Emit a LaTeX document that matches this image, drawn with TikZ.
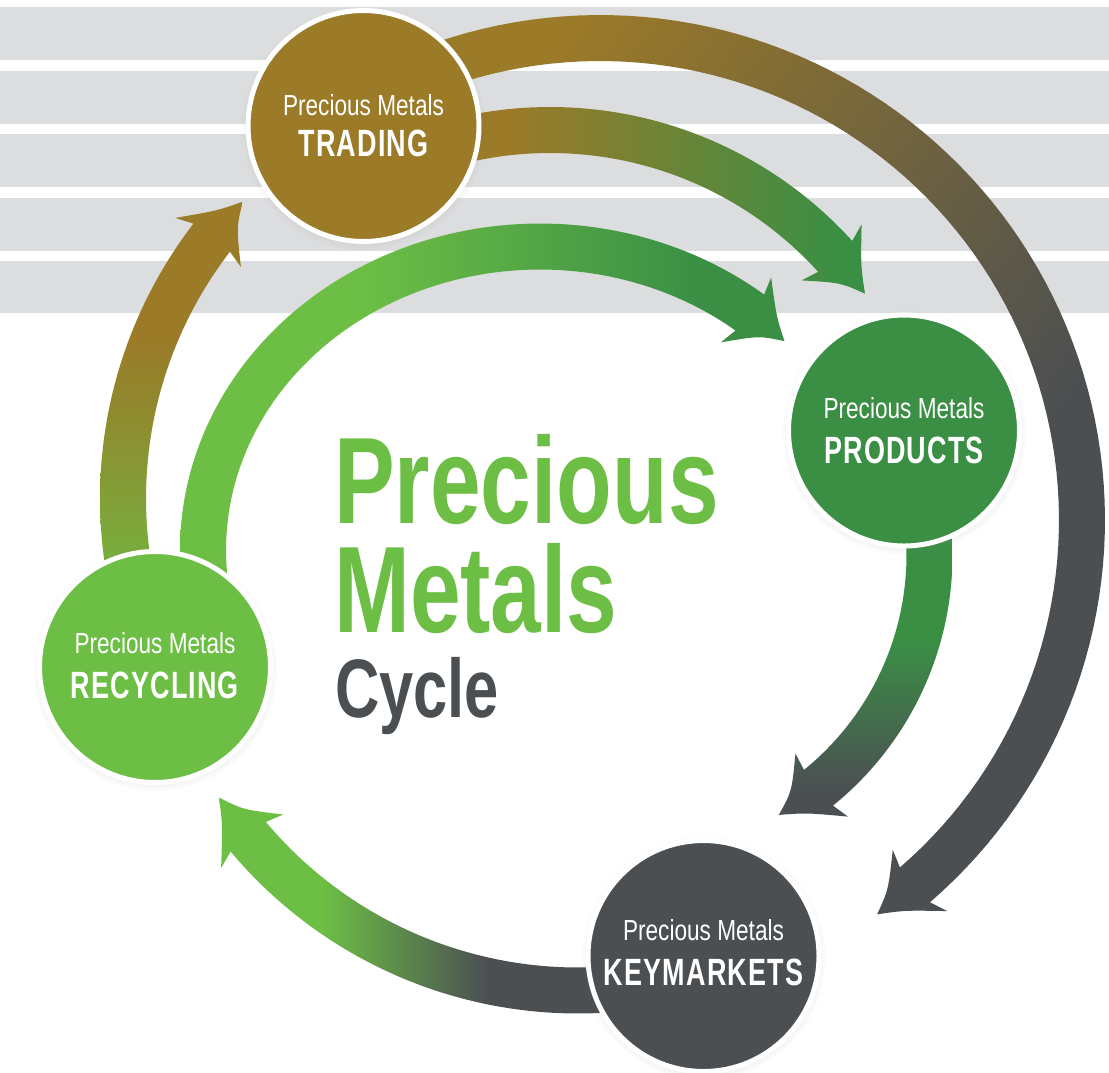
\documentclass[tikz,border=0pt]{standalone}
\usepackage{fontspec}
\setmainfont{Liberation Sans}
\newfontfamily\lblreg[FakeStretch=0.78]{Liberation Sans}
\newfontfamily\lblbold[FakeStretch=0.71,LetterSpace=3]{Liberation Sans}
\newfontfamily\ttlfont[FakeStretch=0.74]{Liberation Sans}
\usetikzlibrary{shadows}
\definecolor{cgold}{HTML}{9B7A28}
\definecolor{cdgreen}{HTML}{3A8F45}
\definecolor{clgreen}{HTML}{6DBE45}
\definecolor{cgray}{HTML}{4B4F52}
\definecolor{cband}{HTML}{DCDDDF}
% gradients: positions p = 50 + d/24 (d = distance from (555,536) along axis)
\pgfdeclarehorizontalshading{shA}{100bp}{color(0bp)=(cgold); color(37.7bp)=(cgold); color(63.8bp)=(cgray); color(100bp)=(cgray)}
\pgfdeclarehorizontalshading{shB}{100bp}{color(0bp)=(cgold); color(48.1bp)=(cgold); color(61.9bp)=(cdgreen); color(100bp)=(cdgreen)}
\pgfdeclarehorizontalshading{shC}{100bp}{color(0bp)=(clgreen); color(41.9bp)=(clgreen); color(56.0bp)=(cdgreen); color(100bp)=(cdgreen)}
\pgfdeclarehorizontalshading{shD}{100bp}{color(0bp)=(cdgreen); color(54.3bp)=(cdgreen); color(60.6bp)=(cgray); color(100bp)=(cgray)}
\pgfdeclarehorizontalshading{shE}{100bp}{color(0bp)=(clgreen); color(40.3bp)=(clgreen); color(47.2bp)=(cgray); color(100bp)=(cgray)}
\pgfdeclarehorizontalshading{shF}{100bp}{color(0bp)=(cgold); color(41.8bp)=(cgold); color(54.0bp)=(clgreen); color(100bp)=(clgreen)}
\def\hw{23}
\def\ww{41}
% arrow outline: #1,#2 centre; #3,#4 radii; #5 start angle; #6 shaft end; #7 tip
\newcommand\arrowshp[7]{%
 plot[domain=#5:#6,samples=90] ({#1+(#3+\hw)*cos(\x)},{#2+(#4+\hw)*sin(\x)})
 -- ({#1+(#3+\ww)*cos(#6-0.8)},{#2+(#4+\ww)*sin(#6-0.8)})
 .. controls ({#1+(#3+13)*cos((#6+#7)/2)},{#2+(#4+13)*sin((#6+#7)/2)}) .. ({#1+#3*cos(#7)},{#2+#4*sin(#7)})
 .. controls ({#1+(#3-13)*cos((#6+#7)/2)},{#2+(#4-13)*sin((#6+#7)/2)}) .. ({#1+(#3-\ww)*cos(#6-0.8)},{#2+(#4-\ww)*sin(#6-0.8)})
 -- ({#1+(#3-\hw)*cos(#6)},{#2+(#4-\hw)*sin(#6)})
 -- plot[domain=#6:#5,samples=90] ({#1+(#3-\hw)*cos(\x)},{#2+(#4-\hw)*sin(\x)})
 -- cycle}
\begin{document}
\begin{tikzpicture}[x=1pt,y=-1pt,
  band/.style={fill=cband},
  disc/.style={circle, draw=white, line width=5pt, minimum size=231pt, inner sep=0pt,
    circular drop shadow={shadow scale=1.06, shadow xshift=0pt, shadow yshift=-2pt, opacity=0.22}},
  toplbl/.style={anchor=base, inner sep=0pt, text=white, font=\lblreg\fontsize{29}{29}\selectfont},
  botlbl/.style={anchor=base, inner sep=0pt, text=white, font=\lblbold\bfseries\fontsize{38}{38}\selectfont},
  ttl/.style={anchor=base west, inner sep=0pt, font=\ttlfont\bfseries\fontsize{123}{109}\selectfont}]
\useasboundingbox[fill=white] (0,0) rectangle (1109,1072);
% background bands
\foreach \ya/\yb in {7/60,71/124,134/187,198/251,261/313}
  \fill[band] (0,\ya) rectangle (1109,\yb);
% arrows
\begin{scope}
 \clip \arrowshp{600}{520}{482}{482}{-114.5}{49.2}{54.9};
 \shade[shading=shA, shading angle=-37.2] (-45,-64) rectangle (1155,1136);
\end{scope}
\begin{scope}
 \clip \arrowshp{550}{515}{385}{385}{-105}{-42.2}{-35.1};
 \shade[shading=shB, shading angle=0] (-45,-64) rectangle (1155,1136);
\end{scope}
\begin{scope}
 \clip \arrowshp{540}{550}{337}{303.5}{165}{308.5}{316.5};
 \shade[shading=shC, shading angle=0] (-45,-64) rectangle (1155,1136);
\end{scope}
\begin{scope}
 \clip \arrowshp{630}{555}{299.5}{299.5}{-10}{51}{60.2};
 \shade[shading=shD, shading angle=-90] (-45,-64) rectangle (1155,1136);
\end{scope}
\begin{scope}
 \clip \arrowshp{578}{560}{430.5}{430.5}{75}{140}{146.5};
 \shade[shading=shE, shading angle=0] (-45,-64) rectangle (1155,1136);
\end{scope}
\begin{scope}
 \clip \arrowshp{551}{498.5}{428}{428}{160}{217.55}{223.9};
 \shade[shading=shF, shading angle=-90] (-45,-64) rectangle (1155,1136);
\end{scope}
% circles
\node[disc, fill=cgold] (trd) at (363.5,126) {};
\node[disc, fill=cdgreen] (prd) at (904,430.5) {};
\node[disc, fill=clgreen] (rcy) at (155,667) {};
\node[disc, fill=cgray] (kmk) at (703.5,956) {};
\node[toplbl] (trd1) at (363.5,115) {Precious Metals};
\node[botlbl] (trd2) at (363.5,156) {TRADING};
\node[toplbl] (prd1) at (904,418) {Precious Metals};
\node[botlbl] (prd2) at (904,463) {PRODUCTS};
\node[toplbl] (rcy1) at (155,653) {Precious Metals};
\node[botlbl] (rcy2) at (155,698) {RECYCLING};
\node[toplbl] (kmk1) at (703.5,940) {Precious Metals};
\node[botlbl] (kmk2) at (703.5,985) {KEYMARKETS};
% title (base anchor = baseline of the last line)
\node[ttl, align=left, text=clgreen] (ttl1) at (334,632) {Precious\\Metals};
\node[ttl, text=cgray, font=\ttlfont\bfseries\fontsize{83}{83}\selectfont] (ttl3) at (335,717) {Cycle};
\end{tikzpicture}
\end{document}
